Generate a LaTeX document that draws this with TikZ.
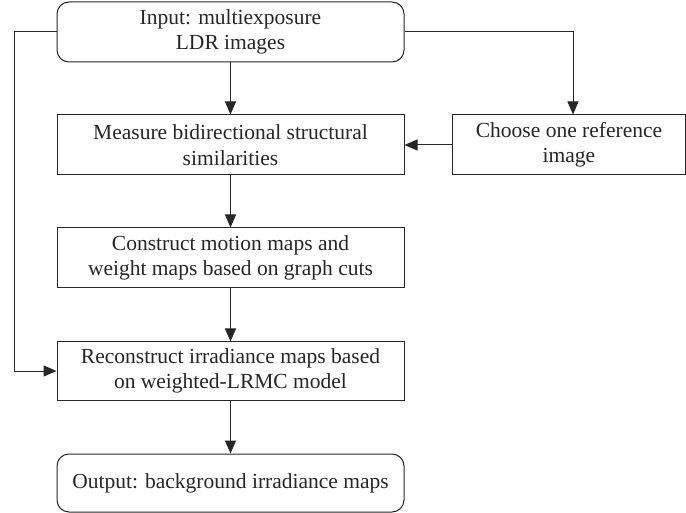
\documentclass[tikz,border=0pt]{standalone}
\usepackage{fontspec}
\setmainfont{Liberation Serif}
\usetikzlibrary{arrows.meta}
\begin{document}
\begin{tikzpicture}[x=1pt,y=1pt,
  box/.style={draw=black!85, line width=1pt, minimum width=347pt, minimum height=60pt, inner sep=0pt, align=center, font=\fontsize{21.5}{25.5}\selectfont, text=black!85},
  rbox/.style={box, rounded corners=12pt},
  conn/.style={draw=black!85, line width=1pt},
  arr/.style={conn, -{Triangle[length=13pt,width=11pt]}}]
\useasboundingbox (0,0) rectangle (686,-513);
\node[rbox] (in) at (230.5,-32) {Input: multiexposure\\LDR images};
\node[box] (meas) at (230.5,-145) {Measure bidirectional structural\\similarities};
\node[box, minimum width=233pt] (choose) at (569,-145) {Choose one reference\\image};
\node[box] (cons) at (230.5,-258) {Construct motion maps and\\weight maps based on graph cuts};
\node[box, minimum height=58pt] (rec) at (230.5,-371) {Reconstruct irradiance maps based\\on weighted-LRMC model};
\node[rbox, minimum height=58pt] (out) at (230.5,-483) {Output: background irradiance maps};
\coordinate (lc) at (14,-32);
\coordinate (rc) at (573,-32);
\draw[arr] (in) -- (meas);
\draw[arr] (meas) -- (cons);
\draw[arr] (cons) -- (rec);
\draw[arr] (rec) -- (out);
\draw[arr] (choose.west) -- (meas.east);
\draw[arr] (in.east |- rc) -- (rc) -- (rc |- choose.north);
\draw[arr] (in.west |- lc) -- (lc) |- (rec.west);
\end{tikzpicture}
\end{document}
